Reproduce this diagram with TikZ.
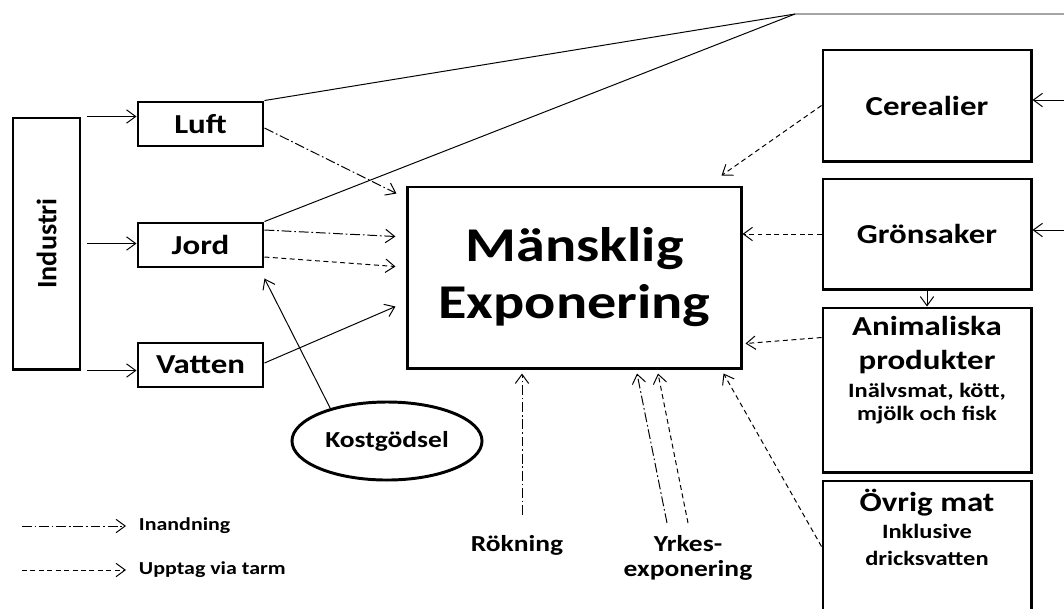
\documentclass[tikz,border=0pt]{standalone}
\usepackage{fontspec}
\setmainfont{Carlito}[FakeStretch=1.2]
\newfontfamily\plainfont{Carlito}
\usetikzlibrary{arrows.meta,shapes.geometric}
\newcommand\fbig{\bfseries\fontsize{34.5}{40.5}\selectfont}
\newcommand\fmid{\bfseries\fontsize{19.5}{24}\selectfont}
\newcommand\fsml{\bfseries\fontsize{16.3}{18}\selectfont}
\newcommand\fsub{\bfseries\fontsize{14.5}{16.4}\selectfont}
\newcommand\fleg{\bfseries\fontsize{13}{15}\selectfont}
\begin{document}
\begin{tikzpicture}[x=0.025cm, y=-0.025cm,
    box/.style={draw, line width=2.1pt, inner sep=0pt, align=center},
    arr/.style={line width=0.7pt, -{Straight Barb[length=6.5pt,width=9.5pt]}},
    inh/.style={arr, dash pattern=on 7pt off 2pt on 1.2pt off 2pt},
    gut/.style={arr, dash pattern=on 3.5pt off 2.5pt}]
    \useasboundingbox (0,0) rectangle (1064,608);
    \clip (0,0) rectangle (1064,608);
    % sources
    \node[box, minimum width=1.675cm, minimum height=6.275cm] (industri) at (46.5,243.5) {\rotatebox{90}{\plainfont\bfseries\fontsize{20}{24}\selectfont Industri}};
    \node[box, minimum width=3.125cm, minimum height=1.1cm, font=\fmid] (luft)   at (200.5,124) {Luft};
    \node[box, minimum width=3.125cm, minimum height=1.1cm, font=\fmid] (jord)   at (200.5,245) {Jord};
    \node[box, minimum width=3.125cm, minimum height=1.1cm, font=\fmid] (vatten) at (200.5,365) {Vatten};
    \node[box, ellipse, minimum width=4.75cm, minimum height=1.95cm, font=\fsml] (kost) at (387,441) {Kostgödsel};
    % exposure
    \node[box, minimum width=8.325cm, minimum height=4.525cm, font=\fbig] (main) at (574.5,277.5) {Mänsklig\\Exponering};
    % food
    \node[box, minimum width=5.2cm, minimum height=2.775cm, font=\fmid] (cereal) at (927,105.5) {Cerealier};
    \node[box, minimum width=5.2cm, minimum height=2.75cm, font=\fmid]  (grons)  at (927,234) {Grönsaker};
    \node[box, minimum width=5.2cm, minimum height=4.1cm,
        label={[anchor=north, align=center, inner sep=0pt, yshift=-7pt, font=\fmid]north:{Animaliska\\produkter\\[-4pt]\fsub Inälvsmat, kött,\\[-7.6pt]\fsub mjölk och fisk}}] (anim) at (927,390) {};
    \node[box, minimum width=5.2cm, minimum height=3.975cm,
        label={[anchor=north, align=center, inner sep=0pt, yshift=-7pt, font=\fmid]north:{Övrig mat\\[-4.8pt]\fsub Inklusive\\[-4.8pt]\fsub dricksvatten}}] (ovrig) at (927,560.5) {};
    % other routes
    \node[font=\fsml] (rokning) at (517,545) {Rökning};
    \node[align=center, font=\fsml] (yrkes) at (688,558) {Yrkes-\\exponering};
    % legend
    \node[anchor=west, font=\fleg] (inand) at (134,526) {Inandning};
    \node[anchor=west, font=\fleg] (upptag) at (134,570) {Upptag via tarm};
    \coordinate (inA) at (22,526);
    \coordinate (upA) at (22,570);
    \coordinate (rkA) at (522,515);
    \coordinate (yrA) at (667,523);
    \coordinate (yrB) at (688,523);
    \coordinate (apex) at (795,14);
    \coordinate (apexE) at (1064,14);
    \coordinate (ceSrc) at (1064,100);
    \coordinate (grSrc) at (1064,230);

    \draw[arr] ([shift={(6,0)}]industri.north east) -- (industri.north east -| luft.west);
    \draw[arr] ([shift={(6,0)}]industri.east) -- (industri.east -| jord.west);
    \draw[arr] ([shift={(6,0)}]industri.south east) -- (industri.south east -| vatten.west);
    \draw[line width=0.7pt] (luft.north east) -- (apex) -- (apexE);
    \draw[line width=0.7pt] (jord.north east) -- (apex);
    \draw[inh] ([shift={(0,4)}]luft.east) -- ([shift={(-10,8)}]main.north west);
    \draw[inh] ([shift={(0,-15)}]jord.east) -- ([shift={(-11,51)}]main.north west);
    \draw[gut] ([shift={(0,12)}]jord.east) -- ([shift={(-11,81)}]main.north west);
    \draw[arr] ([shift={(0,-2)}]vatten.east) -- ([shift={(-11,121)}]main.north west);
    \draw[arr] (kost.150) -- ([shift={(0,10)}]jord.south east);
    \draw[arr] (ceSrc) -- ([shift={(0,-5.5)}]cereal.east);
    \draw[arr] (grSrc) -- ([shift={(0,-4)}]grons.east);
    \draw[gut] (cereal.west) -- ([shift={(-21,-10)}]main.north east);
    \draw[gut] (grons.west) -- (grons.west -| main.east);
    \draw[arr] (grons.south) -- (anim.north);
    \draw[gut] ([shift={(0,31)}]anim.north west) -- ([shift={(3,-26)}]main.south east);
    \draw[gut] ([shift={(0,67)}]ovrig.north west) -- ([shift={(-19,4)}]main.south east);
    \draw[inh] (rkA) -- ([shift={(-52.5,4)}]main.south);
    \draw[inh] (yrA) -- ([shift={(62.5,4)}]main.south);
    \draw[gut] (yrB) -- ([shift={(83.5,4)}]main.south);
    \draw[inh] (inA) -- ([shift={(-8,0)}]inand.west);
    \draw[gut] (upA) -- ([shift={(-8,0)}]upptag.west);
\end{tikzpicture}
\end{document}
